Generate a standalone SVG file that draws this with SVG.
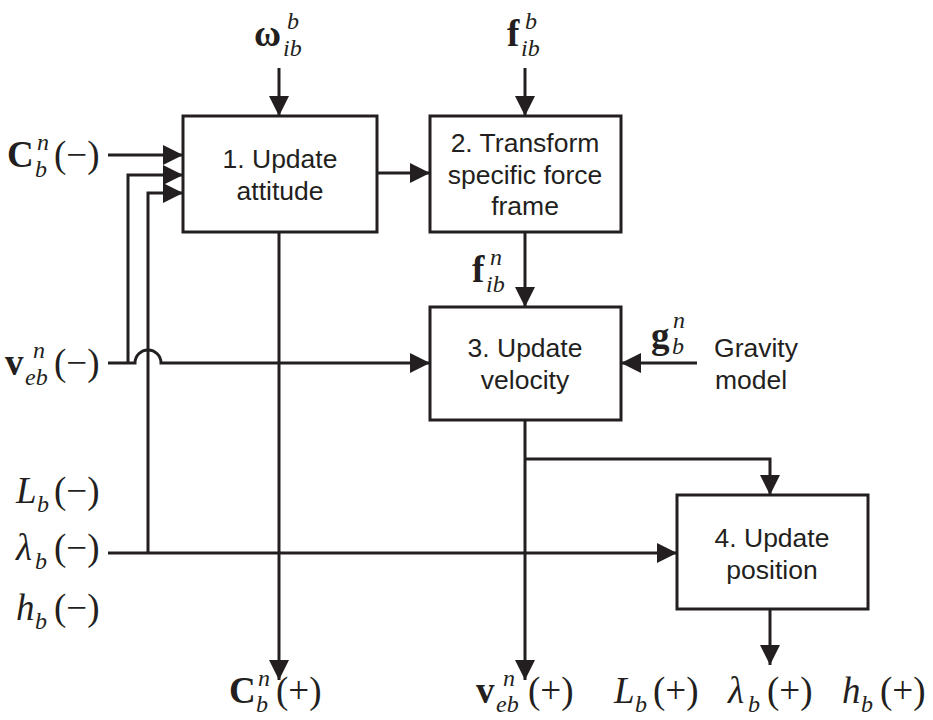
<svg xmlns="http://www.w3.org/2000/svg" width="933" height="720" viewBox="0 0 933 720">
<defs>
<marker id="ah" viewBox="0 0 20 20" refX="20" refY="10" markerWidth="20" markerHeight="20" markerUnits="userSpaceOnUse" orient="auto">
<path d="M0,0 L20,10 L0,20 Z" fill="#231f20"/>
</marker>
</defs>
<style>
.box{fill:#fff;stroke:#231f20;stroke-width:3}
.bt{font-family:"Liberation Sans",Arial,sans-serif;font-size:26.5px;fill:#231f20;text-anchor:middle}
.ln{fill:none;stroke:#231f20;stroke-width:3}
.arr{fill:none;stroke:#231f20;stroke-width:3;marker-end:url(#ah)}
.m{font-family:"Liberation Serif","Times New Roman",serif;font-size:37px;fill:#231f20}
.mb{font-family:"Liberation Serif","Times New Roman",serif;font-size:37px;font-weight:bold;fill:#231f20}
.mi{font-family:"Liberation Serif","Times New Roman",serif;font-size:37px;font-style:italic;fill:#231f20}
.s{font-family:"Liberation Serif","Times New Roman",serif;font-size:24px;font-style:italic;fill:#231f20}
</style>
<rect width="933" height="720" fill="#fff"/>
<g id="connectors">
<path class="arr" d="M279,68 V116"/>
<path class="arr" d="M525,68 V116"/>
<path class="arr" d="M108,155 H183"/>
<path class="arr" d="M128,363 V175 H183"/>
<path class="arr" d="M148,553 V193 H183"/>
<path class="arr" d="M108,363 H135 A13,13 0 0 1 161,363 H430"/>
<path class="arr" d="M108,553 H677"/>
<path class="arr" d="M377,173 H430"/>
<path class="arr" d="M525,232 V307"/>
<path class="arr" d="M697,363 H621"/>
<path class="arr" d="M525,420 V680"/>
<path class="arr" d="M525,459 H770 V495"/>
<path class="arr" d="M279,232 V680"/>
<path class="arr" d="M770,609 V665"/>
</g>
<g id="node1">
<rect class="box" x="183" y="116" width="194" height="116"/>
<text class="bt" x="280" y="168">1. Update</text>
<text class="bt" x="280" y="200">attitude</text>
</g>
<g id="node2">
<rect class="box" x="430" y="116" width="191" height="116"/>
<text class="bt" x="525" y="152">2. Transform</text>
<text class="bt" x="525" y="184">specific force</text>
<text class="bt" x="525" y="215">frame</text>
</g>
<g id="node3">
<rect class="box" x="430" y="307" width="191" height="113"/>
<text class="bt" x="525" y="357">3. Update</text>
<text class="bt" x="525" y="389">velocity</text>
</g>
<g id="node4">
<rect class="box" x="677" y="495" width="191" height="114"/>
<text class="bt" x="772" y="547">4. Update</text>
<text class="bt" x="772" y="579">position</text>
</g>
<g id="gravity">
<text class="bt" x="756" y="357">Gravity</text>
<text class="bt" x="751" y="389">model</text>
</g>
<g id="labels">
<text class="mb" x="254" y="46">ω</text><text class="s" x="287" y="29">b</text><text class="s" x="283" y="56">ib</text>
<text class="mb" x="507" y="46">f</text><text class="s" x="525" y="29">b</text><text class="s" x="521" y="56">ib</text>
<text class="mb" x="472" y="282">f</text><text class="s" x="490" y="265">n</text><text class="s" x="486" y="292">ib</text>
<text class="mb" x="651" y="348">g</text><text class="s" x="673" y="328">n</text><text class="s" x="672" y="354">b</text>
<text class="mb" x="7" y="167">C</text><text class="s" x="37" y="150">n</text><text class="s" x="35" y="177">b</text><text class="m" x="54" y="167">(−)</text>
<text class="mb" x="5" y="375">v</text><text class="s" x="33" y="358">n</text><text class="s" x="25" y="385">eb</text><text class="m" x="54" y="375">(−)</text>
<text class="mi" x="16" y="503">L</text><text class="s" x="37" y="512">b</text><text class="m" x="54" y="503">(−)</text>
<text class="mi" x="16" y="560">λ</text><text class="s" x="35" y="569">b</text><text class="m" x="54" y="560">(−)</text>
<text class="mi" x="16" y="620">h</text><text class="s" x="35" y="629">b</text><text class="m" x="54" y="620">(−)</text>
<text class="mb" x="229" y="703">C</text><text class="s" x="258" y="686">n</text><text class="s" x="256" y="712">b</text><text class="m" x="276" y="703">(+)</text>
<text class="mb" x="476" y="703">v</text><text class="s" x="503" y="686">n</text><text class="s" x="496" y="712">eb</text><text class="m" x="528" y="703">(+)</text>
<text class="mi" x="614" y="703">L</text><text class="s" x="635" y="712">b</text><text class="m" x="653" y="703">(+)</text>
<text class="mi" x="728" y="703">λ</text><text class="s" x="748" y="712">b</text><text class="m" x="767" y="703">(+)</text>
<text class="mi" x="842" y="703">h</text><text class="s" x="861" y="712">b</text><text class="m" x="880" y="703">(+)</text>
</g>
</svg>
